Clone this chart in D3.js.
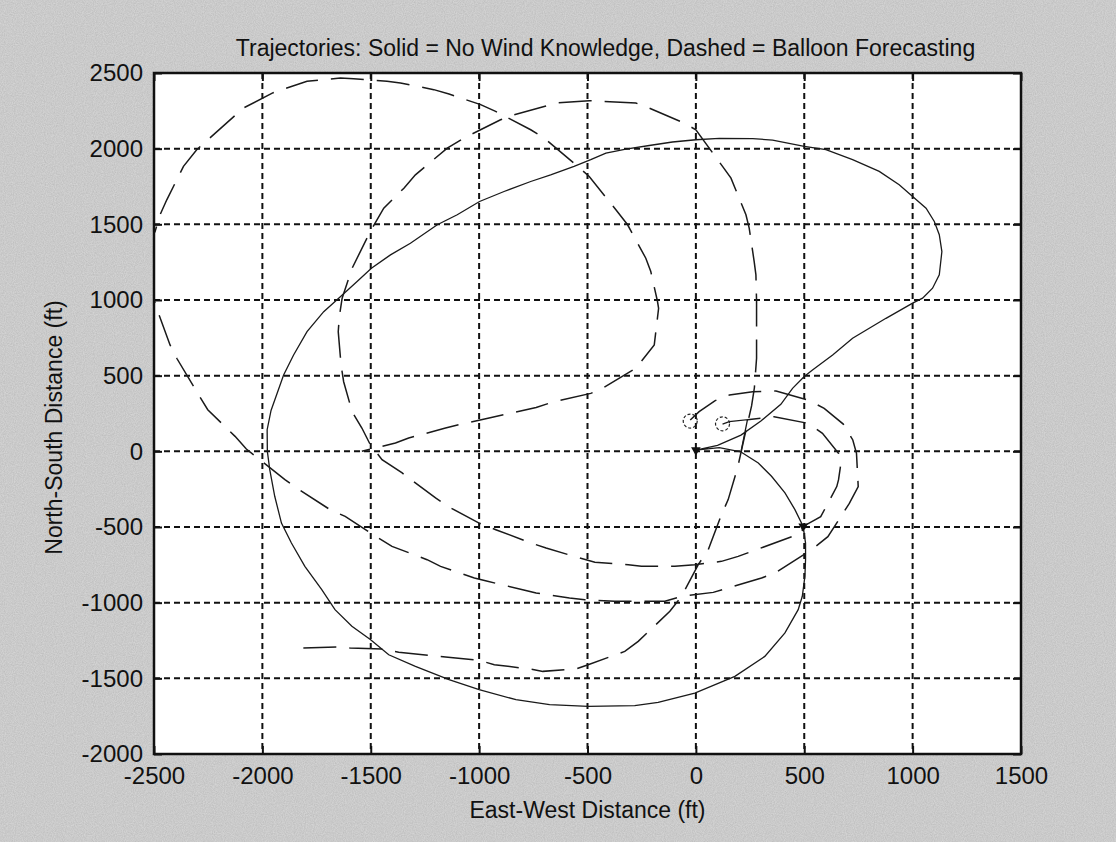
<!DOCTYPE html>
<html>
<head>
<meta charset="utf-8">
<script src="https://cdn.jsdelivr.net/npm/d3@7"></script>
<style>
  html, body { margin: 0; padding: 0; background: #c4c4c4; }
  svg { display: block; }
  text { font-family: "Liberation Sans", Arial, Helvetica, sans-serif; fill: #111; }
</style>
</head>
<body>
<svg id="chart" width="1116" height="842"></svg>
<script>
// ---------------- data ----------------
const titleText = "Trajectories: Solid = No Wind Knowledge, Dashed = Balloon Forecasting";
const xLabelText = "East-West Distance (ft)";
const yLabelText = "North-South Distance (ft)";
const xDomain = [-2500, 1500];
const yDomain = [-2000, 2500];
const xTicks = [-2500, -2000, -1500, -1000, -500, 0, 500, 1000, 1500];
const yTicks = [-2000, -1500, -1000, -500, 0, 500, 1000, 1500, 2000, 2500];

// Solid trajectory: no wind knowledge (x ft, y ft)
const solidPath = [
  [123,180],[154,196],[238,209],[208,-4],[288,-77],[349,-165],[411,-275],[457,-385],[495,-496],
  [506,-606],[506,-716],[503,-826],[491,-958],[472,-1046],[411,-1200],[318,-1355],[180,-1487],
  [-5,-1597],[-174,-1659],[-282,-1681],[-497,-1685],[-675,-1674],[-830,-1641],[-1000,-1575],
  [-1139,-1509],[-1294,-1421],[-1417,-1344],[-1502,-1244],[-1587,-1156],[-1665,-1046],[-1726,-914],
  [-1804,-760],[-1866,-606],[-1912,-474],[-1943,-297],[-1966,-121],[-1977,0],[-1978,143],[-1960,270],
  [-1902,504],[-1856,637],[-1794,791],[-1717,923],[-1648,1012],[-1563,1122],[-1497,1210],[-1409,1298],
  [-1317,1375],[-1193,1497],[-1101,1563],[-998,1651],[-885,1717],[-762,1783],[-670,1827],[-562,1883],
  [-485,1927],[-415,1971],[-323,1997],[-215,2021],[-108,2044],[0,2059],[108,2068],[262,2066],
  [354,2057],[500,2015],[600,1993],[723,1927],[846,1850],[938,1761],[1000,1684],[1062,1607],
  [1100,1519],[1123,1431],[1135,1320],[1123,1166],[1092,1078],[1046,1012],[1000,979],[877,879],
  [723,747],[631,637],[538,538],[500,494],[446,416],[392,311],[300,200],[208,107],[100,40],[0,8],
  [108,24],[208,-4]
];

// Dashed trajectory A: balloon forecasting
const balloonPathA = [
  [-26,207],[15,262],[89,335],[155,372],[262,394],[370,399],[518,339],[592,284],[680,180],[724,75],
  [741,-13],[749,-233],[708,-344],[609,-564],[534,-650],[365,-804],[303,-837],[149,-903],[80,-932],
  [-66,-958],[-143,-991],[-297,-991],[-374,-991],[-512,-980],[-583,-969],[-737,-936],[-799,-914],
  [-961,-859],[-1022,-837],[-1178,-760],[-1240,-716],[-1402,-628],[-1464,-573],[-1618,-430],
  [-1688,-385],[-1842,-242],[-1896,-187],[-2074,15],[-2126,99],[-2252,275],[-2303,394],[-2395,615],
  [-2426,703],[-2488,945],[-2520,1100],[-2530,1250],[-2515,1400],[-2495,1453],[-2472,1563],
  [-2441,1662],[-2364,1883],[-2303,1993],[-2087,2269],[-1950,2370],[-1794,2445],[-1640,2467],
  [-1579,2462],[-1425,2445],[-1363,2434],[-1209,2390],[-1139,2361],[-993,2291],[-924,2246],
  [-762,2125],[-700,2070],[-554,1894],[-492,1816],[-369,1596],[-315,1497],[-231,1276],[-208,1188],
  [-177,990],[-172,945],[-192,703],[-277,549],[-431,416],[-485,383],[-654,328],[-737,290],
  [-954,220],[-1093,176],[-1155,154],[-1325,88],[-1386,55],[-1541,0]
];

// Dashed trajectory B: balloon forecasting
const balloonPathB = [
  [-1811,-1300],[-1657,-1293],[-1595,-1300],[-1448,-1306],[-1371,-1328],[-1216,-1350],[-1155,-1359],
  [-1000,-1381],[-930,-1410],[-768,-1438],[-706,-1454],[-552,-1438],[-497,-1410],[-328,-1322],
  [-266,-1256],[-120,-1057],[-66,-958],[11,-749],[57,-650],[118,-419],[149,-319],[192,-111],
  [225,100],[257,300],[270,420],[280,615],[280,990],[277,1166],[269,1254],[246,1475],[231,1563],
  [162,1805],[123,1883],[0,2125],[-54,2169],[-215,2268],[-277,2302],[-492,2317],[-639,2302],
  [-700,2279],[-839,2224],[-901,2191],[-1070,2070],[-1147,2004],[-1294,1827],[-1347,1739],
  [-1440,1607],[-1502,1453],[-1586,1210],[-1632,1012],[-1645,890],[-1650,791],[-1637,571],
  [-1625,460],[-1586,262],[-1541,154],[-1502,44],[-1448,-55],[-1355,-143],[-1201,-308],
  [-1131,-374],[-1000,-474],[-923,-518],[-760,-606],[-691,-639],[-536,-705],[-466,-733],
  [-312,-749],[-251,-760],[-97,-760],[-5,-749],[118,-727],[195,-694],[488,-540],[495,-496],
  [576,-432],[650,-233],[658,-189],[667,-101],[658,-13],[584,119],[518,185],[361,229],[238,209]
];

// Release points (open circles) and end points (filled markers)
const releasePoints = [[-26,200],[123,182]];
const endPoints = [[0,8],[495,-496]];

// ---------------- drawing ----------------
const svg = d3.select("#chart");
const W = 1116, H = 842;
const mLeft = 154, mRight = 1021, mTop = 73, mBottom = 754;

const x = d3.scaleLinear().domain(xDomain).range([mLeft, mRight]);
const y = d3.scaleLinear().domain(yDomain).range([mBottom, mTop]);

// grainy grey background (scanned look)
const defs = svg.append("defs");
const f = defs.append("filter").attr("id", "grain")
  .attr("x", 0).attr("y", 0).attr("width", "100%").attr("height", "100%");
f.append("feTurbulence").attr("type", "fractalNoise").attr("baseFrequency", 0.9)
  .attr("numOctaves", 2).attr("seed", 3).attr("result", "noise");
f.append("feColorMatrix").attr("in", "noise").attr("type", "matrix")
  .attr("values", "0.8 0 0 0 0.35  0.8 0 0 0 0.35  0.8 0 0 0 0.35  0 0 0 0 0.25")
  .attr("result", "dots");
f.append("feComposite").attr("in", "dots").attr("in2", "SourceGraphic").attr("operator", "over");

svg.append("rect").attr("width", W).attr("height", H).attr("fill", "#c2c2c2")
  .attr("filter", "url(#grain)");

// plot background
svg.append("rect")
  .attr("x", mLeft).attr("y", mTop)
  .attr("width", mRight - mLeft).attr("height", mBottom - mTop)
  .attr("fill", "#ffffff");

// grid
const grid = svg.append("g").attr("stroke", "#111").attr("stroke-width", 2)
  .attr("stroke-dasharray", "6,4");
grid.selectAll("line.gx").data(xTicks.filter(v => v > xDomain[0] && v < xDomain[1]))
  .join("line").attr("class", "gx")
  .attr("x1", d => x(d)).attr("x2", d => x(d))
  .attr("y1", mTop).attr("y2", mBottom);
grid.selectAll("line.gy").data(yTicks.filter(v => v > yDomain[0] && v < yDomain[1]))
  .join("line").attr("class", "gy")
  .attr("x1", mLeft).attr("x2", mRight)
  .attr("y1", d => y(d)).attr("y2", d => y(d));

// clip
defs.append("clipPath").attr("id", "plotclip")
  .append("rect").attr("x", mLeft).attr("y", mTop)
  .attr("width", mRight - mLeft).attr("height", mBottom - mTop);

const lineLin = d3.line().x(d => x(d[0])).y(d => y(d[1]));

const plot = svg.append("g").attr("clip-path", "url(#plotclip)");

plot.append("path").datum(solidPath)
  .attr("d", lineLin).attr("fill", "none")
  .attr("stroke", "#1a1a1a").attr("stroke-width", 1.3);

[balloonPathA, balloonPathB].forEach(p => {
  plot.append("path").datum(p)
    .attr("d", lineLin).attr("fill", "none")
    .attr("stroke", "#1a1a1a").attr("stroke-width", 1.5)
    .attr("stroke-dasharray", "33,13");
});

plot.selectAll("circle.rel").data(releasePoints).join("circle")
  .attr("class", "rel")
  .attr("cx", d => x(d[0])).attr("cy", d => y(d[1])).attr("r", 7)
  .attr("fill", "none").attr("stroke", "#222").attr("stroke-width", 1.2)
  .attr("stroke-dasharray", "3,2");

plot.selectAll("path.end").data(endPoints).join("path")
  .attr("class", "end")
  .attr("transform", d => `translate(${x(d[0])},${y(d[1])}) rotate(180)`)
  .attr("d", d3.symbol().type(d3.symbolTriangle).size(40))
  .attr("fill", "#111");

// axes (ticks inward on all sides)
const tickLen = 8;
const fmt = d => String(d);
const axB = svg.append("g").attr("transform", `translate(0,${mBottom})`)
  .call(d3.axisBottom(x).tickValues(xTicks).tickSize(-tickLen).tickPadding(13).tickFormat(fmt));
const axT = svg.append("g").attr("transform", `translate(0,${mTop})`)
  .call(d3.axisTop(x).tickValues(xTicks).tickSize(-tickLen).tickFormat(""));
const axL = svg.append("g").attr("transform", `translate(${mLeft},0)`)
  .call(d3.axisLeft(y).tickValues(yTicks).tickSize(-tickLen).tickPadding(11).tickFormat(fmt));
const axR = svg.append("g").attr("transform", `translate(${mRight},0)`)
  .call(d3.axisRight(y).tickValues(yTicks).tickSize(-tickLen).tickFormat(""));

[axB, axT, axL, axR].forEach(g => {
  g.select(".domain").remove();
  g.selectAll(".tick line").attr("stroke", "#111").attr("stroke-width", 2);
  g.selectAll("text").attr("font-size", 24).attr("fill", "#111")
    .attr("font-family", "'Liberation Sans', Arial, sans-serif");
});

// border box
svg.append("rect")
  .attr("x", mLeft).attr("y", mTop)
  .attr("width", mRight - mLeft).attr("height", mBottom - mTop)
  .attr("fill", "none").attr("stroke", "#111").attr("stroke-width", 2.5);

// title & labels
svg.append("text")
  .attr("x", (mLeft + mRight) / 2 + 18).attr("y", 56)
  .attr("text-anchor", "middle").attr("font-size", 23)
  .text(titleText);

svg.append("text")
  .attr("x", (mLeft + mRight) / 2).attr("y", 818)
  .attr("text-anchor", "middle").attr("font-size", 23)
  .text(xLabelText);

svg.append("text")
  .attr("transform", `translate(62,${(mTop + mBottom) / 2 + 14}) rotate(-90)`)
  .attr("text-anchor", "middle").attr("font-size", 23)
  .text(yLabelText);
</script>
</body>
</html>
